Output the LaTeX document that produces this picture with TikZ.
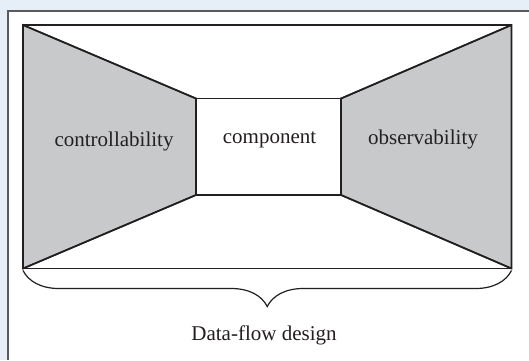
\documentclass[tikz,border=0pt]{standalone}
\usepackage{fontspec}
\setmainfont{Liberation Serif}
\usetikzlibrary{decorations.pathreplacing,calc}
\definecolor{bgblue}{HTML}{E6EEF8}
\definecolor{panelline}{HTML}{5A5A5A}
\definecolor{ink}{HTML}{231F20}
\definecolor{shade}{HTML}{C8C9CB}
\tikzset{
  edge/.style={draw=ink, line width=1.6pt, line join=miter},
  sidepanel/.style={edge, fill=shade},
  lbl/.style={font=\fontsize{21}{25}\selectfont, text=ink, inner sep=0pt, anchor=base},
}
\begin{document}
\begin{tikzpicture}[x=1pt,y=-1pt]
\useasboundingbox (0,0) rectangle (529,360);
\fill[bgblue] (0,0) rectangle (529,360);
\fill[white] (8,11) rectangle (529,360);
\draw[panelline, line width=1.2pt] (529,11) -- (8,11) -- (8,360);
% outer corners
\coordinate (otl) at (23,25);
\coordinate (otr) at (511.5,25);
\coordinate (obr) at (511.5,268.5);
\coordinate (obl) at (23,268.5);
% inner corners
\coordinate (itl) at (196,98.5);
\coordinate (itr) at (341,98.5);
\coordinate (ibr) at (341,195);
\coordinate (ibl) at (196,195);
% brace end points
\coordinate (bl) at (23,270.5);
\coordinate (br) at (511.5,270.5);
% outer frame
\draw[edge] (otl) rectangle (obr);
% side panels
\draw[sidepanel] (otl) -- (itl) -- (ibl) -- (obl) -- cycle;
\draw[sidepanel] (otr) -- (itr) -- (ibr) -- (obr) -- cycle;
% inner box and connecting edges
\draw[edge] (itl) rectangle (ibr);
\draw[edge] (otl) -- (itl);
\draw[edge] (otr) -- (itr);
\draw[edge] (obl) -- (ibl);
\draw[edge] (obr) -- (ibr);
% labels
\node[lbl] (ctrl) at (114,146) {controllability};
\node[lbl] (comp) at (269.5,143) {component};
\node[lbl] (obs) at (423,144.5) {observability};
% brace
\draw[draw=ink, line width=1.2pt, decorate, decoration={brace, mirror, amplitude=36pt}]
  (bl) -- (br);
\node[lbl] (dfd) at (264,340) {Data-flow design};
\end{tikzpicture}
\end{document}
